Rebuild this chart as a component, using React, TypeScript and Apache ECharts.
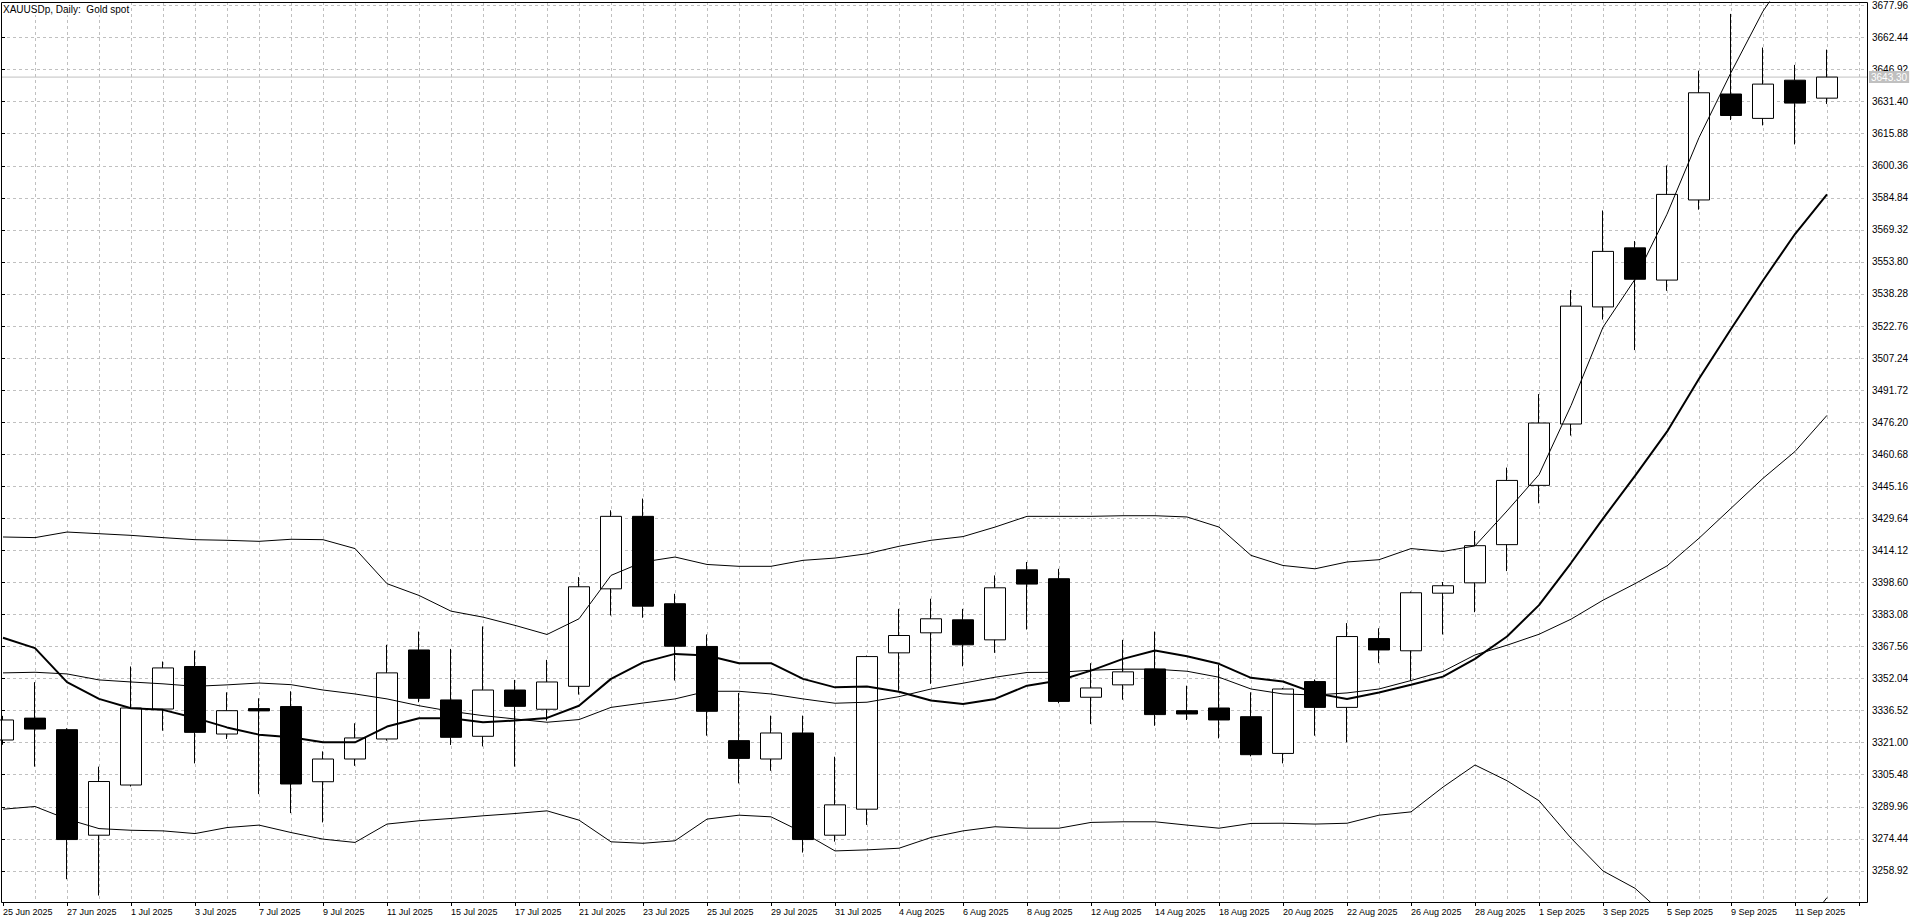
import { useEffect, useRef } from "react";
import * as echarts from "echarts";

// ---- data ----
const dates = [
  "25 Jun 2025", "26 Jun 2025", "27 Jun 2025", "30 Jun 2025", "1 Jul 2025", "2 Jul 2025",
  "3 Jul 2025", "4 Jul 2025", "7 Jul 2025", "8 Jul 2025", "9 Jul 2025", "10 Jul 2025",
  "11 Jul 2025", "14 Jul 2025", "15 Jul 2025", "16 Jul 2025", "17 Jul 2025", "18 Jul 2025",
  "21 Jul 2025", "22 Jul 2025", "23 Jul 2025", "24 Jul 2025", "25 Jul 2025", "28 Jul 2025",
  "29 Jul 2025", "30 Jul 2025", "31 Jul 2025", "1 Aug 2025", "4 Aug 2025", "5 Aug 2025",
  "6 Aug 2025", "7 Aug 2025", "8 Aug 2025", "11 Aug 2025", "12 Aug 2025", "13 Aug 2025",
  "14 Aug 2025", "15 Aug 2025", "18 Aug 2025", "19 Aug 2025", "20 Aug 2025", "21 Aug 2025",
  "22 Aug 2025", "25 Aug 2025", "26 Aug 2025", "27 Aug 2025", "28 Aug 2025", "29 Aug 2025",
  "1 Sep 2025", "2 Sep 2025", "3 Sep 2025", "4 Sep 2025", "5 Sep 2025", "8 Sep 2025",
  "9 Sep 2025", "10 Sep 2025", "11 Sep 2025", "12 Sep 2025",
];

const opens = [
  3322.3, 3332.9, 3327.3, 3276.2, 3300.5, 3337.3, 3357.9, 3325.2, 3337.5, 3338.5,
  3302.1, 3313.1, 3322.8, 3365.9, 3341.7, 3324.1, 3346.5, 3337.2, 3348.3, 3395.5,
  3430.6, 3388.3, 3367.6, 3322.0, 3313.1, 3325.7, 3276.2, 3288.8, 3364.5, 3374.2,
  3380.5, 3370.8, 3404.7, 3400.4, 3343.0, 3349.0, 3356.7, 3336.5, 3337.8, 3333.6,
  3315.8, 3350.6, 3338.1, 3371.4, 3365.5, 3393.4, 3398.4, 3416.9, 3445.6, 3475.3,
  3532.0, 3560.6, 3545.0, 3583.8, 3635.1, 3623.3, 3641.8, 3633.1,
];
const closes = [
  3332.0, 3327.6, 3274.1, 3302.2, 3337.8, 3357.2, 3326.0, 3336.5, 3336.4, 3301.0,
  3313.1, 3323.3, 3354.8, 3342.5, 3323.6, 3346.5, 3338.6, 3350.4, 3396.5, 3430.6,
  3387.1, 3367.7, 3336.2, 3313.4, 3325.7, 3274.1, 3290.9, 3362.7, 3372.9, 3381.0,
  3368.4, 3396.0, 3397.8, 3341.0, 3347.5, 3355.3, 3334.6, 3334.9, 3332.0, 3315.2,
  3347.0, 3338.1, 3372.4, 3365.9, 3393.6, 3397.0, 3416.4, 3448.0, 3475.8, 3532.4,
  3558.9, 3545.4, 3586.5, 3635.7, 3624.7, 3639.9, 3630.7, 3643.3,
];
const lows = [
  3320.0, 3309.4, 3254.9, 3247.0, 3299.8, 3326.8, 3311.0, 3322.8, 3296.1, 3286.9,
  3282.4, 3309.8, 3322.0, 3340.6, 3319.9, 3319.2, 3309.4, 3331.7, 3344.3, 3382.6,
  3381.5, 3351.1, 3324.4, 3301.3, 3307.4, 3267.8, 3273.1, 3281.2, 3346.2, 3349.5,
  3358.0, 3364.5, 3375.8, 3340.1, 3330.0, 3341.8, 3329.2, 3332.0, 3323.1, 3314.4,
  3311.0, 3324.4, 3321.2, 3359.5, 3351.1, 3373.4, 3384.2, 3404.1, 3436.9, 3469.7,
  3525.9, 3511.1, 3539.8, 3579.1, 3622.5, 3619.9, 3610.7, 3630.3,
];
const highs = [
  3334.0, 3350.3, 3328.0, 3309.4, 3357.9, 3360.3, 3365.6, 3345.4, 3342.5, 3345.9,
  3316.8, 3330.4, 3368.4, 3374.8, 3366.4, 3377.3, 3351.4, 3361.1, 3401.2, 3433.5,
  3439.2, 3393.1, 3373.4, 3345.1, 3334.1, 3334.1, 3314.2, 3363.2, 3385.8, 3390.7,
  3385.8, 3402.0, 3408.5, 3405.2, 3359.5, 3370.8, 3374.8, 3348.6, 3358.7, 3345.4,
  3347.5, 3351.6, 3378.9, 3376.4, 3394.2, 3398.8, 3423.5, 3454.2, 3489.8, 3540.2,
  3578.7, 3563.9, 3600.5, 3646.4, 3673.9, 3657.6, 3649.2, 3656.6,
];

// thick moving average
const maLine = [
  3371.8, 3366.8, 3350.3, 3342.2, 3337.7, 3336.9, 3333.0, 3328.4, 3324.9, 3323.6,
  3321.2, 3321.2, 3328.8, 3332.8, 3332.8, 3330.9, 3331.7, 3333.0, 3338.9, 3351.9,
  3359.9, 3364.0, 3363.2, 3359.5, 3359.5, 3351.9, 3347.8, 3348.2, 3345.7, 3341.4,
  3339.7, 3342.2, 3348.6, 3351.1, 3355.9, 3361.6, 3365.6, 3362.9, 3359.2, 3352.4,
  3350.6, 3345.0, 3342.2, 3345.3, 3349.1, 3353.0, 3361.6, 3372.4, 3387.6, 3408.0,
  3429.5, 3450.2, 3471.6, 3497.2, 3521.3, 3544.8, 3567.3, 3586.5,
];

// Bollinger bands
const bandUpper = [
  3420.6, 3420.3, 3423.0, 3422.2, 3421.4, 3420.3, 3419.3, 3419.0, 3418.5, 3419.5,
  3419.3, 3415.0, 3398.0, 3392.3, 3384.7, 3381.8, 3377.8, 3373.4, 3381.0, 3402.0,
  3408.5, 3410.9, 3407.3, 3406.4, 3406.4, 3409.3, 3410.4, 3412.5, 3416.1, 3419.0,
  3420.8, 3425.4, 3430.6, 3430.6, 3430.6, 3430.9, 3430.9, 3430.3, 3425.4, 3411.7,
  3406.8, 3405.2, 3408.5, 3409.6, 3415.0, 3413.6, 3416.3, 3433.2, 3450.8, 3484.2,
  3522.2, 3545.4, 3576.9, 3614.0, 3645.5, 3675.2, 3698.0, 3713.0,
];
const bandMiddle = [
  3354.8, 3355.1, 3354.3, 3351.4, 3350.4, 3349.5, 3348.3, 3349.0, 3349.9, 3349.1,
  3346.5, 3344.6, 3342.2, 3338.9, 3336.2, 3334.1, 3332.5, 3330.9, 3332.2, 3338.1,
  3340.2, 3342.2, 3345.9, 3345.9, 3344.6, 3342.2, 3340.1, 3340.6, 3343.3, 3347.0,
  3349.8, 3352.7, 3355.0, 3355.1, 3356.1, 3356.6, 3356.6, 3355.6, 3352.7, 3347.0,
  3344.6, 3344.1, 3345.1, 3347.0, 3351.1, 3355.5, 3363.5, 3368.2, 3373.5, 3380.8,
  3390.0, 3398.0, 3406.6, 3420.0, 3434.5, 3449.0, 3462.0, 3479.5,
];
const bandLower = [
  3288.8, 3290.1, 3284.0, 3279.4, 3278.6, 3278.3, 3277.0, 3279.9, 3281.1, 3277.5,
  3274.3, 3272.7, 3281.6, 3283.2, 3284.3, 3285.6, 3286.7, 3288.0, 3283.5, 3273.0,
  3272.3, 3273.5, 3284.0, 3285.9, 3285.1, 3277.5, 3268.6, 3269.1, 3269.9, 3275.1,
  3278.3, 3280.3, 3279.6, 3279.6, 3282.4, 3282.7, 3282.7, 3281.1, 3279.6, 3281.9,
  3282.0, 3281.6, 3282.0, 3285.9, 3287.5, 3299.5, 3310.2, 3302.6, 3292.9, 3274.8,
  3258.9, 3250.5, 3236.5, 3226.0, 3223.0, 3223.0, 3226.0, 3246.0,
];

// price scale ticks
const tickMin = 3258.92;
const tickMax = 3677.96;
const tickStep = 15.52;
const lastPrice = 3643.3;

// ---- layout ----
const BAR_PX = 32;
const FIRST_BAR_X = 3;
const PLOT_LEFT = 1;
const PLOT_RIGHT = 1867;
const PLOT_TOP = 2;
const PLOT_BOTTOM = 902;
const TOP_TICK_Y = 5.5;
const PX_PER_UNIT = 2.0652;

const FONT = "'Liberation Sans', Arial, sans-serif";
const GRID_LINE = { color: "#c0c0c0", type: [3, 3], width: 1 };

export default function App() {
  const chartRef = useRef<HTMLDivElement>(null);

  useEffect(() => {
    if (!chartRef.current) return;
    const chart = echarts.init(chartRef.current, null, { renderer: "svg" });

    const slots = [...dates, ""];
    const candleGridWidth = (slots.length - 1) * BAR_PX;
    const yMax = tickMax + (TOP_TICK_Y - PLOT_TOP) / PX_PER_UNIT;
    const yMin = tickMax - (PLOT_BOTTOM - TOP_TICK_Y) / PX_PER_UNIT;
    const scaleHeight = (tickMax - tickMin) * PX_PER_UNIT;

    const candles = dates.map((_, i) => [opens[i], closes[i], lows[i], highs[i]]);

    const indicator = (name: string, data: number[], width: number) => ({
      name,
      type: "line" as const,
      xAxisIndex: 0,
      yAxisIndex: 0,
      data,
      symbol: "none",
      silent: true,
      z: 4,
      lineStyle: { color: "#000", width },
    });

    chart.setOption({
      animation: false,
      textStyle: { fontFamily: FONT },
      title: {
        text: "XAUUSDp, Daily:  Gold spot",
        left: PLOT_LEFT + 1,
        top: PLOT_TOP + 1,
        padding: [1, 1, 1, 1],
        backgroundColor: "#fff",
        textStyle: { fontSize: 10, fontWeight: "normal", color: "#000", fontFamily: FONT },
        z: 10,
      },
      grid: [
        {
          // candles
          left: FIRST_BAR_X,
          top: PLOT_TOP,
          width: candleGridWidth,
          height: PLOT_BOTTOM - PLOT_TOP,
          outerBoundsMode: "none",
        },
        {
          // price scale
          left: PLOT_LEFT,
          top: TOP_TICK_Y,
          width: PLOT_RIGHT - PLOT_LEFT,
          height: scaleHeight,
          outerBoundsMode: "none",
        },
      ],
      xAxis: [
        {
          type: "category",
          gridIndex: 0,
          data: slots,
          boundaryGap: false,
          axisLine: { show: false },
          axisTick: { show: true, interval: 1, length: 4, lineStyle: { color: "#000", width: 1 } },
          axisLabel: {
            interval: 1,
            align: "left",
            margin: 5,
            fontSize: 9,
            color: "#000",
            fontFamily: FONT,
          },
          splitLine: {
            show: true,
            interval: (index: number) => index > 0,
            lineStyle: GRID_LINE,
          },
        },
        { type: "value", gridIndex: 1, min: 0, max: 1, show: false },
      ],
      yAxis: [
        { type: "value", gridIndex: 0, min: yMin, max: yMax, show: false },
        {
          type: "value",
          gridIndex: 1,
          position: "right",
          min: tickMin,
          max: tickMax,
          interval: tickStep,
          axisLine: { show: false },
          axisTick: { show: true, length: 4, lineStyle: { color: "#000", width: 1 } },
          axisLabel: {
            margin: 5,
            fontSize: 10,
            color: "#000",
            fontFamily: FONT,
            formatter: (v: number) => v.toFixed(2),
          },
          splitLine: { show: true, lineStyle: GRID_LINE },
        },
      ],
      graphic: [
        {
          type: "rect",
          silent: true,
          z: 100,
          shape: {
            x: PLOT_LEFT + 0.5,
            y: PLOT_TOP + 0.5,
            width: PLOT_RIGHT - PLOT_LEFT,
            height: PLOT_BOTTOM - PLOT_TOP,
          },
          style: { fill: "none", stroke: "#000", lineWidth: 1 },
        },
      ],
      series: [
        {
          name: "price",
          type: "line",
          xAxisIndex: 1,
          yAxisIndex: 1,
          data: [
            [0, lastPrice],
            [1, lastPrice],
          ],
          symbol: "none",
          silent: true,
          z: 1,
          lineStyle: { color: "#c0c0c0", width: 1 },
          endLabel: {
            show: true,
            formatter: () => lastPrice.toFixed(2),
            backgroundColor: "#c0c0c0",
            color: "#fff",
            fontSize: 10,
            fontFamily: FONT,
            padding: [1, 2, 1, 2],
            distance: 2,
          },
        },
        {
          name: "XAUUSDp",
          type: "candlestick",
          xAxisIndex: 0,
          yAxisIndex: 0,
          data: candles,
          barWidth: 21,
          silent: true,
          z: 3,
          itemStyle: {
            color: "#fff",
            color0: "#000",
            borderColor: "#000",
            borderColor0: "#000",
            borderWidth: 1,
          },
        },
        indicator("MA", maLine, 2),
        indicator("BB upper", bandUpper, 1),
        indicator("BB middle", bandMiddle, 1),
        indicator("BB lower", bandLower, 1),
      ],
    });

    return () => {
      chart.dispose();
    };
  }, []);

  return (
    <div
      ref={chartRef}
      style={{ position: "fixed", left: 0, top: 0, width: 1920, height: 923, background: "#fff" }}
    />
  );
}
